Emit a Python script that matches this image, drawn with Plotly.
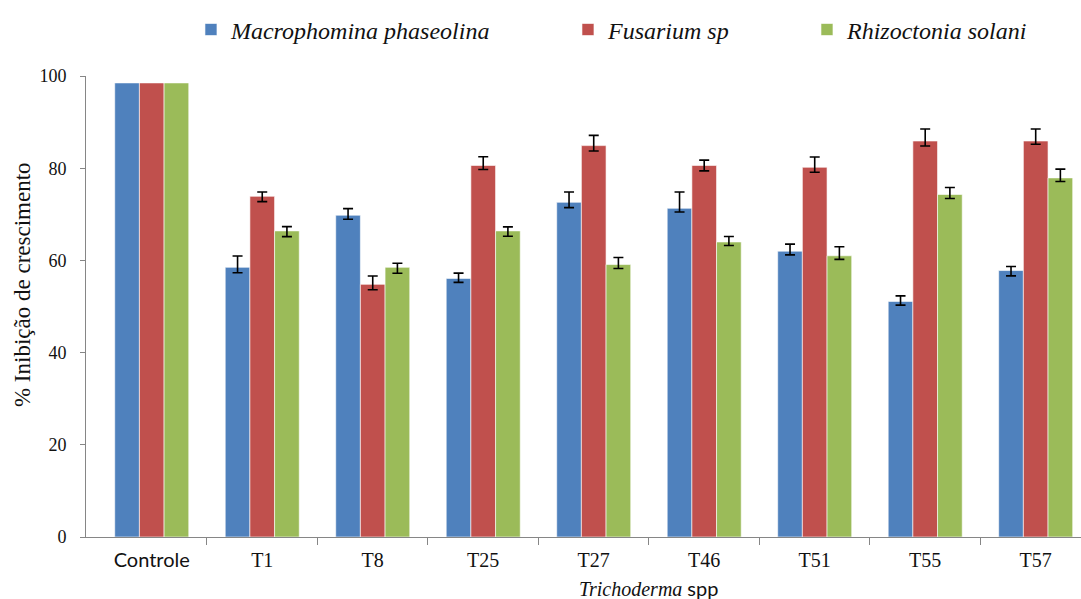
import numpy as np
import plotly.graph_objects as go

# Growth inhibition (%) of three soil pathogens by Trichoderma isolates
categories = ["Controle", "T1", "T8", "T25", "T27", "T46", "T51", "T55", "T57"]
series_names = ["Macrophomina phaseolina", "Fusarium sp", "Rhizoctonia solani"]

macrophomina = [98.5, 58.5, 69.8, 56.1, 72.6, 71.3, 62.0, 51.1, 57.8]
fusarium = [98.5, 73.9, 54.8, 80.6, 84.9, 80.6, 80.2, 85.9, 85.9]
rhizoctonia = [98.5, 66.4, 58.5, 66.4, 59.1, 64.0, 61.0, 74.3, 77.9]

# upper / lower error bar lengths (no error bar for the control)
macrophomina_err_up = [None, 2.45, 1.43, 1.15, 2.23, 3.54, 1.52, 1.21, 0.87]
macrophomina_err_dn = [None, 1.17, 0.87, 0.87, 1.15, 0.80, 0.80, 0.80, 1.15]
fusarium_err_up = [None, 0.93, 1.80, 1.87, 2.23, 1.15, 2.23, 2.60, 2.60]
fusarium_err_dn = [None, 1.15, 1.17, 0.87, 1.17, 1.17, 1.08, 1.08, 0.72]
rhizoctonia_err_up = [None, 0.93, 0.87, 0.87, 1.52, 1.17, 1.95, 1.52, 1.89]
rhizoctonia_err_dn = [None, 1.24, 1.30, 1.15, 0.87, 0.78, 0.78, 0.87, 0.78]

y_ticks = [0, 20, 40, 60, 80, 100]

colors = ["#4F81BD", "#C0504D", "#9BBB59"]
values = [macrophomina, fusarium, rhizoctonia]
errs_up = [macrophomina_err_up, fusarium_err_up, rhizoctonia_err_up]
errs_dn = [macrophomina_err_dn, fusarium_err_dn, rhizoctonia_err_dn]
legend_ids = ["legend", "legend2", "legend3"]

SERIF = "Liberation Serif"
SANS = "Lato"
AXIS_GREY = "#868686"
TEXT = "#111111"


def as_float_array(vals):
    # missing entries become NaN so no error bar is drawn there
    return np.array([np.nan if v is None else v for v in vals], dtype=float)


fig = go.Figure()
for name, vals, eu, ed, col, lg in zip(series_names, values, errs_up, errs_dn, colors, legend_ids):
    fig.add_trace(go.Bar(
        x=categories,
        y=vals,
        name=name,
        legend=lg,
        marker=dict(color=col, line=dict(color="rgba(255,255,255,0.6)", width=1)),
        error_y=dict(
            type="data",
            symmetric=False,
            array=as_float_array(eu),
            arrayminus=as_float_array(ed),
            color="#000000",
            thickness=1.6,
            width=5,
        ),
    ))

# tick labels: serif for the isolates, sans for the control
tick_text = [
    f"<span style='font-family:{SANS}'>{c}</span>" if c == "Controle" else c
    for c in categories
]
boundaries = list(np.arange(len(categories) - 1) + 0.5)
x_range = [-0.595, 8.41]

legend_common = dict(
    orientation="h",
    yanchor="middle",
    xanchor="left",
    y=1.10,
    bgcolor="rgba(0,0,0,0)",
    font=dict(family=SERIF, size=24, color=TEXT, style="italic"),
)

fig.update_layout(
    width=1081,
    height=599,
    margin=dict(l=86, r=0, t=76, b=62),
    paper_bgcolor="white",
    plot_bgcolor="white",
    barmode="group",
    bargap=0.33,
    bargroupgap=0,
    legend=dict(x=0.1055, **legend_common),
    legend2=dict(x=0.4844, **legend_common),
    legend3=dict(x=0.7246, **legend_common),
    xaxis=dict(
        type="category",
        range=x_range,
        tickvals=categories,
        ticktext=tick_text,
        ticks="",
        showline=True,
        linecolor=AXIS_GREY,
        linewidth=1,
        showgrid=False,
        zeroline=False,
        tickfont=dict(family=SERIF, size=20, color=TEXT),
        ticklabelstandoff=5,
    ),
    xaxis2=dict(
        overlaying="x",
        anchor="y",
        range=x_range,
        tickmode="array",
        tickvals=boundaries,
        ticks="outside",
        ticklen=7,
        tickcolor=AXIS_GREY,
        tickwidth=1,
        showticklabels=False,
        showline=False,
        showgrid=False,
        zeroline=False,
    ),
    yaxis=dict(
        range=[0, 100],
        tickmode="array",
        tickvals=y_ticks,
        ticks="outside",
        ticklen=5,
        tickcolor=AXIS_GREY,
        showline=True,
        linecolor=AXIS_GREY,
        linewidth=1,
        showgrid=False,
        zeroline=False,
        tickfont=dict(family=SERIF, size=18, color=TEXT),
        ticklabelstandoff=10,
    ),
    showlegend=True,
)

# keeps the boundary-tick axis alive
fig.add_trace(go.Scatter(x=[0], y=[0], xaxis="x2", yaxis="y", mode="markers",
                         marker=dict(opacity=0), showlegend=False, hoverinfo="skip"))

fig.add_annotation(
    text="% Inibição de crescimento",
    xref="paper", yref="paper",
    x=-0.0643, y=0.5466,
    xanchor="center", yanchor="middle",
    textangle=-90,
    showarrow=False,
    font=dict(family=SERIF, size=23, color=TEXT),
)
fig.add_annotation(
    text=f"<i>Trichoderma</i> <span style='font-family:{SANS}'>spp</span>",
    xref="paper", yref="paper",
    x=0.565, y=-0.1106,
    xanchor="center", yanchor="middle",
    showarrow=False,
    font=dict(family=SERIF, size=20, color=TEXT),
)

fig.write_html("out.html")
